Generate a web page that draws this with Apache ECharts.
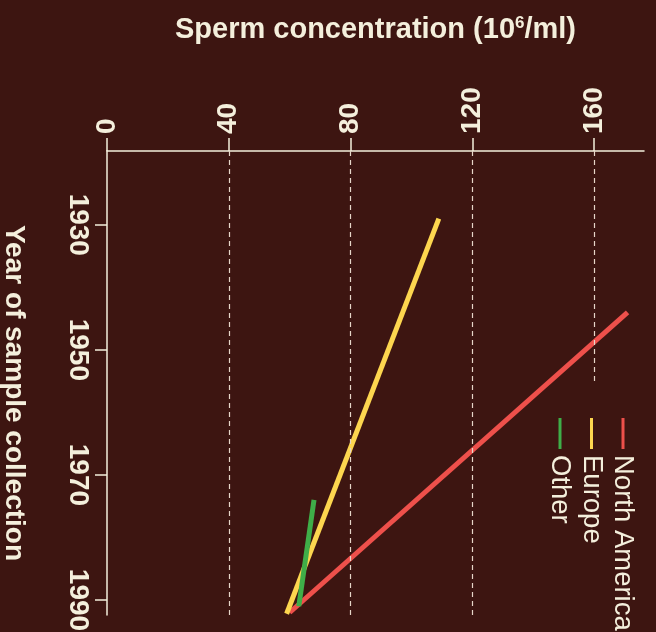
<!DOCTYPE html>
<html>
<head>
<meta charset="utf-8">
<script src="https://cdn.jsdelivr.net/npm/echarts@6/dist/echarts.min.js"></script>
<style>
html, body { margin: 0; padding: 0; background: #3d1511; }
#chart { width: 656px; height: 632px; }
</style>
</head>
<body>
<div id="chart"></div>
<script>
// trend lines as [concentration, year] end points
var seriesNames = ['North America', 'Europe', 'Other']
var northAmerica = [[171, 1944], [60, 1992]]
var europe = [[109, 1929], [59, 1992.2]]
var other = [[68, 1974], [63, 1991]]
var concTicks = [0, 40, 80, 120, 160]
var yearTicks = [1930, 1950, 1970, 1990]

var colors = ['#ee504b', '#fdd64f', '#3fae48']
var ink = '#f4efdc'
var font = 'Liberation Sans'
var yMin = 1918.2, yMax = 1992.4

var chart = echarts.init(document.getElementById('chart'))

// dashed guide lines, the last one stops above the legend
var guides = []
concTicks.forEach(function (v, i) {
    if (v === 0) return
    var end = i === concTicks.length - 1 ? 1955.5 : yMax
    guides.push([{ coord: [v, yMin] }, { coord: [v, end] }])
})

// legend drawn by hand, turned a quarter to read downwards
var legendItems = seriesNames.map(function (name, i) {
    return {
        type: 'group',
        x: 623 - i * 31.5,
        y: 418,
        rotation: -Math.PI / 2,
        children: [
            { type: 'line', shape: { x1: 0, y1: 0, x2: 31, y2: 0 }, style: { stroke: colors[i], lineWidth: 3 } },
            { type: 'text', x: 37, y: 0, style: { text: name, fill: ink, font: '27.5px "' + font + '"', textVerticalAlign: 'middle' } }
        ]
    }
})

chart.setOption({
    backgroundColor: '#3d1511',
    animation: false,
    color: colors,
    grid: { left: 107, top: 151, right: 12, bottom: 17, containLabel: false, outerBoundsMode: 'none' },
    xAxis: {
        type: 'value',
        position: 'top',
        min: 0,
        max: 176.4,
        name: 'Sperm concentration (10{sup|6}/ml)',
        nameLocation: 'middle',
        nameGap: 107,
        nameTextStyle: {
            color: ink, fontFamily: font, fontWeight: 'bold', fontSize: 29,
            rich: { sup: { color: ink, fontFamily: font, fontWeight: 'bold', fontSize: 17, padding: [0, 0, 12, 0] } }
        },
        axisLine: { lineStyle: { color: ink, width: 1.5 } },
        axisTick: { customValues: concTicks, length: 13, lineStyle: { color: ink, width: 1.5 } },
        axisLabel: { customValues: concTicks, rotate: -90, margin: 17, color: ink, fontFamily: font, fontWeight: 'bold', fontSize: 28 },
        splitLine: { show: false }
    },
    yAxis: {
        type: 'value',
        inverse: true,
        min: yMin,
        max: yMax,
        name: 'Year of sample collection',
        nameLocation: 'middle',
        nameRotate: -90,
        nameGap: 79,
        nameTextStyle: { color: ink, fontFamily: font, fontWeight: 'bold', fontSize: 28, padding: [0, 0, 0, 20] },
        axisLine: { lineStyle: { color: ink, width: 1.5 } },
        axisTick: { customValues: yearTicks, length: 12, lineStyle: { color: ink, width: 1.5 } },
        axisLabel: {
            customValues: yearTicks, rotate: -90, margin: 15, color: ink, fontFamily: font, fontWeight: 'bold', fontSize: 28,
            formatter: function (v) { return String(v) }
        },
        splitLine: { show: false }
    },
    graphic: legendItems,
    series: [
        {
            name: 'guides',
            type: 'line',
            data: [],
            silent: true,
            markLine: {
                silent: true,
                symbol: 'none',
                label: { show: false },
                lineStyle: { color: '#e6d6c8', type: [5, 4], width: 1.2 },
                data: guides
            }
        },
        { name: seriesNames[0], type: 'line', data: northAmerica, showSymbol: false, lineStyle: { color: colors[0], width: 5 } },
        { name: seriesNames[1], type: 'line', data: europe, showSymbol: false, lineStyle: { color: colors[1], width: 5 } },
        { name: seriesNames[2], type: 'line', data: other, showSymbol: false, lineStyle: { color: colors[2], width: 5 } }
    ]
})
</script>
</body>
</html>
